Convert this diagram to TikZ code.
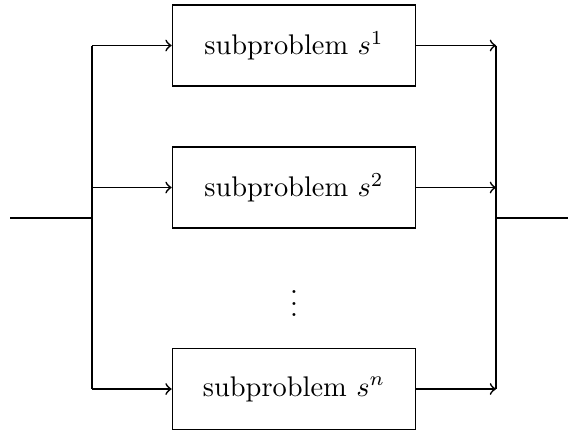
\documentclass[tikz,border=0pt]{standalone}
\begin{document}
\begin{tikzpicture}[x=0.3521pt,y=-0.3521pt,
  every node/.style={font=\fontsize{10}{12}\selectfont}]
\tikzset{
  boxst/.style={draw,line width=0.6pt,minimum width=85.56pt,minimum height=28.52pt,inner sep=0pt},
  conn/.style={line width=0.6pt}}
\useasboundingbox (0,0) rectangle (568,430);
\node[boxst] (b1) at (294,45.5) {subproblem $s^1$};
\node[boxst] (b2) at (294,187.5) {subproblem $s^2$};
\node[boxst] (b3) at (294,389) {subproblem $s^n$};
\node (dots) at (294,295) {$\vdots$};
\coordinate (in) at (10,218);
\coordinate (lsplit) at (92,218);
\coordinate (lt) at (92,45.5);
\coordinate (lm) at (92,187.5);
\coordinate (lb) at (92,389);
\coordinate (rt) at (496,45.5);
\coordinate (rm) at (496,187.5);
\coordinate (rb) at (496,389);
\coordinate (rjoin) at (496,218);
\coordinate (out) at (568,218);
\draw[conn] (in) -- (lsplit);
\draw[conn] (lt) -- (lb);
\draw[conn,->] (lt) -- (b1.west);
\draw[conn,->] (lm) -- (b2.west);
\draw[conn,->] (lb) -- (b3.west);
\draw[conn,->] (b1.east) -- (rt);
\draw[conn,->] (b2.east) -- (rm);
\draw[conn,->] (b3.east) -- (rb);
\draw[conn] (rt) -- (rb);
\draw[conn] (rjoin) -- (out);
\end{tikzpicture}
\end{document}
